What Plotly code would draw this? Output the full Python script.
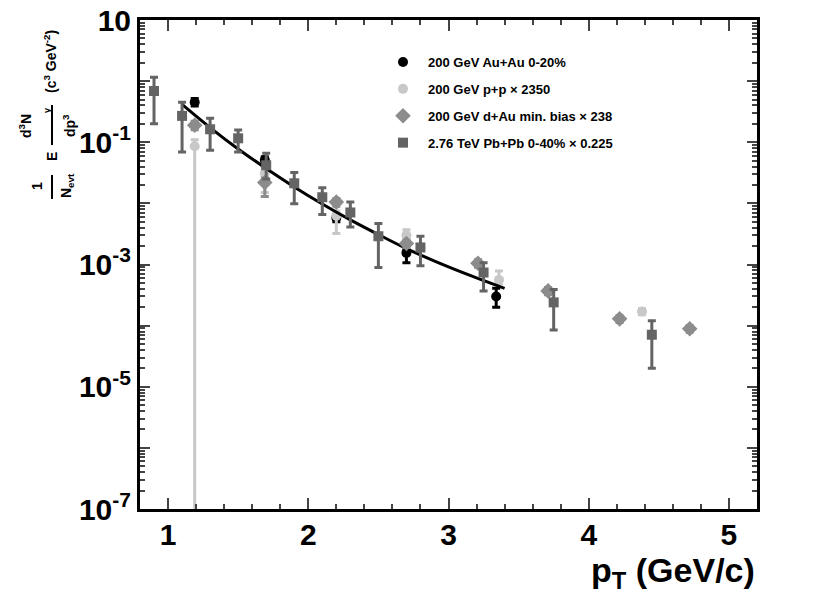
import plotly.graph_objects as go

# 200 GeV Au+Au 0-20%
auau_pt = [1.19, 1.69, 2.2, 2.7, 3.34]
auau_y = [0.45, 0.051, 0.0058, 0.00155, 0.00030]
auau_hi = [0.52, 0.058, 0.0066, 0.00175, 0.00041]
auau_lo = [0.39, 0.045, 0.0050, 0.00107, 0.00020]

# 200 GeV p+p x 2350
pp_pt = [1.19, 1.69, 2.2, 2.7, 3.36, 4.38]
pp_y = [0.086, 0.031, 0.0063, 0.0030, 0.00056, 0.00017]
pp_hi = [0.11, 0.038, 0.0075, 0.0037, 0.00078, 0.00019]
pp_lo = [1e-8, 0.015, 0.0032, 0.0026, 0.00048, 0.00015]

# 200 GeV d+Au min. bias x 238
dau_pt = [1.19, 1.69, 2.2, 2.7, 3.21, 3.71, 4.22, 4.72]
dau_y = [0.19, 0.022, 0.0105, 0.0022, 0.00105, 0.00037, 0.000129, 8.9e-5]
dau_hi = [0.22, 0.026, 0.012, 0.0025, 0.0012, 0.00042, 0.000145, 0.0001]
dau_lo = [0.16, 0.013, 0.009, 0.0019, 0.0009, 0.00032, 0.000113, 7.8e-5]

# 2.76 TeV Pb+Pb 0-40% x 0.225
pbpb_pt = [0.9, 1.1, 1.3, 1.5, 1.7, 1.9, 2.1, 2.3, 2.5, 2.8, 3.25, 3.75, 4.45]
pbpb_y = [0.69, 0.27, 0.163, 0.116, 0.042, 0.0213, 0.0126, 0.0071, 0.0029, 0.0019, 0.00074, 0.00024, 7.1e-5]
pbpb_hi = [1.16, 0.45, 0.247, 0.158, 0.066, 0.032, 0.018, 0.0105, 0.0047, 0.0029, 0.00107, 0.00039, 0.00012]
pbpb_lo = [0.20, 0.069, 0.074, 0.069, 0.025, 0.0099, 0.0066, 0.0041, 0.00089, 0.00095, 0.00037, 0.000085, 2.0e-5]

# fit curve through the Au+Au points
fit_pt = [1.1, 1.3, 1.5, 1.7, 1.9, 2.1, 2.3, 2.5, 2.7, 3.0, 3.2, 3.4]
fit_y = [0.417, 0.174, 0.0776, 0.0372, 0.0186, 0.00977, 0.00537, 0.00309, 0.00182, 0.000912, 0.000603, 0.000407]

FONT = "Liberation Sans"

# plot area in pixels (page body margin is removed below)
L, R, T, B = 140, 757, 20, 509
W, H = 830, 606


def px(x):
    return (x - L) / (R - L)


def py(y):
    return (B - y) / (B - T)


def series(name, x, y, hi, lo, color, symbol, size, group):
    return go.Scatter(
        x=x, y=y, mode="markers", name=name, legendgroup=group,
        marker=dict(color=color, symbol=symbol, size=size),
        error_y=dict(type="data", symmetric=False,
                     array=[h - v for h, v in zip(hi, y)],
                     arrayminus=[v - l for v, l in zip(y, lo)],
                     color=color, thickness=3, width=4),
    )


fig = go.Figure()
fig.add_trace(series("200 GeV Au+Au 0-20%", auau_pt, auau_y, auau_hi, auau_lo,
                     "#000000", "circle", 10, "a"))
fig.add_trace(series("200 GeV p+p \u00d7 2350", pp_pt, pp_y, pp_hi, pp_lo,
                     "#c8c8c8", "circle", 10, "b"))
fig.add_trace(go.Scatter(x=fit_pt, y=fit_y, mode="lines", showlegend=False,
                         line=dict(color="black", width=3, shape="spline")))
fig.add_trace(series("200 GeV d+Au min. bias \u00d7 238", dau_pt, dau_y, dau_hi, dau_lo,
                     "#8c8c8c", "diamond", 12, "c"))
fig.add_trace(series("2.76 TeV Pb+Pb 0-40% \u00d7 0.225", pbpb_pt, pbpb_y, pbpb_hi, pbpb_lo,
                     "#646464", "square", 10, "d"))

major = [10.0 ** e for e in range(-7, 2)]
major_txt = ["10<sup>%d</sup>" % e if e % 2 else " " for e in range(-7, 1)] + ["10"]
minor = [m * 10.0 ** e for e in range(-7, 1) for m in range(2, 10)]

tickfont = dict(family=FONT, size=30, color="black", weight="bold")

fig.update_xaxes(range=[0.8, 5.2], showline=True, linewidth=3, linecolor="black",
                 mirror="ticks", ticks="inside", ticklen=11, tickwidth=2,
                 tickvals=[1, 2, 3, 4, 5], tickfont=tickfont, automargin=False,
                 ticklabelstandoff=-3, ticklabeloverflow="allow",
                 minor=dict(ticks="inside", dtick=0.2, ticklen=5, tickwidth=2),
                 showgrid=False, zeroline=False)
fig.update_yaxes(type="log", range=[-7, 1], showline=True, linewidth=3, linecolor="black",
                 mirror="ticks", ticks="inside", ticklen=10, tickwidth=2, automargin=False,
                 ticklabeloverflow="allow",
                 tickmode="array", tickvals=major, ticktext=major_txt, tickfont=tickfont,
                 minor=dict(tickmode="array", tickvals=minor, ticks="inside", ticklen=5, tickwidth=2),
                 showgrid=False, zeroline=False)

lab = dict(family=FONT, size=14, color="black", weight="bold")
annots = [
    ("1", 37, 186, lab),
    ("N<sub>evt</sub>", 67, 186, lab),
    ("E", 52, 157, lab),
    ("d<sup>3</sup>N", 25, 126, lab),
    ("dp<sup>3</sup>", 69, 126, lab),
    ("\u03b3", 47, 110, dict(lab, size=9)),
    ("(c<sup>3</sup> GeV<sup>-2</sup>)", 50, 62, lab),
]
for txt, x, y, f in annots:
    fig.add_annotation(text=txt, x=px(x), y=py(y), xref="paper", yref="paper",
                       textangle=-90, showarrow=False, font=f,
                       xanchor="center", yanchor="middle")

for y0, y1 in [(175, 199), (105, 145)]:
    fig.add_shape(type="line", xref="paper", yref="paper",
                  x0=px(52), x1=px(52), y0=py(y0), y1=py(y1),
                  line=dict(color="black", width=2))

fig.add_annotation(text="p<sub>T</sub> (GeV/c)", x=1.0, y=py(572), xref="paper", yref="paper",
                   xanchor="right", yanchor="middle", showarrow=False,
                   font=dict(family=FONT, size=34, color="black", weight="bold"))

fig.update_layout(
    width=W, height=H,
    margin=dict(l=L, r=W - R, t=T, b=H - B),
    paper_bgcolor="white", plot_bgcolor="white",
    legend=dict(x=px(378), y=py(47), xanchor="left", yanchor="top",
                traceorder="grouped", tracegroupgap=7, itemwidth=40,
                font=dict(family=FONT, size=13, color="black", weight="bold"),
                bgcolor="rgba(0,0,0,0)"),
)

fig.write_html("out.html", config={"displayModeBar": False},
               post_script="document.body.style.margin='0';")
